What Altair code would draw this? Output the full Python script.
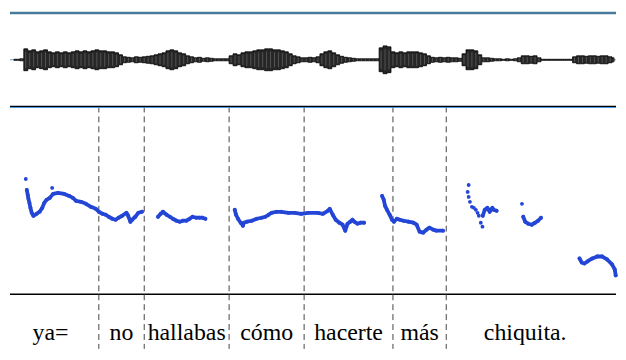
import altair as alt
import pandas as pd

T_START = -0.01
T_END = 3.06
W = 610

# ---- waveform envelope (half-amplitude, sampled every 0.02 s from 0.01 s) ----
wave_amp = [0.5, 0.5, 1, 11, 9, 10, 8, 9, 10, 8,
            7, 8, 7, 8, 7, 8, 9, 8, 9, 8,
            9, 10, 9, 9, 8, 8, 7, 5, 3, 2.5,
            2, 3, 2.5, 3, 3.5, 4, 5, 6, 7, 9,
            10, 9, 7, 6, 4, 3, 2, 2.5, 1.5, 2,
            1.5, 1, 1, 1, 1, 4, 6, 5, 7, 8,
            8, 9, 10, 10, 11, 11, 10, 10, 9, 8,
            6, 4, 3, 2, 2, 2.5, 2, 3, 6, 8,
            9, 7, 5, 3.5, 2.5, 2, 1.5, 1, 1, 1,
            1, 1, 1, 12, 14, 13, 8, 7, 8, 7,
            8, 8, 8, 7, 6, 4, 2.5, 2, 2.5, 2,
            2.5, 2, 2, 1.5, 6, 10, 10, 9, 5, 2,
            2, 1.5, 1, 1, 0.5, 1, 0.5, 1, 2, 4,
            4, 3.5, 4, 2, 0.5, 0.5, 0.5, 0.5, 0.5, 0.5,
            0.5, 0.5, 3, 4, 4, 3.5, 4, 4, 3.5, 4,
            4, 3, 2]
wave_t = [round(0.01 + 0.02 * i, 3) for i in range(len(wave_amp))]

# ---- pitch track (Hz) ----
p_iso_t = [0.07, 0.2035, 2.5835]
p_iso_hz = [345.5, 326.5, 292.6]

s1_t = [0.075, 0.08, 0.0835, 0.0885, 0.0935, 0.10, 0.1085, 0.125, 0.14, 0.1535,
        0.1635, 0.175, 0.1915, 0.2085, 0.2335, 0.265, 0.29, 0.3085, 0.325, 0.35,
        0.375, 0.40, 0.425, 0.44, 0.4585, 0.475, 0.49, 0.5085, 0.525, 0.54,
        0.5585, 0.58, 0.5885, 0.60, 0.6085, 0.625, 0.64, 0.6585]
s1_hz = [322.2, 311.6, 303.2, 294.7, 284.1, 273.5, 267.2, 271.4, 275.7, 284.1,
         294.7, 301.1, 305.3, 313.8, 315.9, 313.8, 309.5, 305.3, 298.9, 296.8,
         292.6, 286.2, 282.0, 275.7, 271.4, 269.3, 265.1, 260.8, 258.7, 263.0,
         267.2, 273.5, 267.2, 254.5, 258.7, 265.1, 273.5, 275.7]
s2_t = [0.74, 0.7535, 0.765, 0.7835, 0.80, 0.815, 0.8335, 0.85, 0.865, 0.8835,
        0.90, 0.915, 0.9335, 0.95, 0.965, 0.98]
s2_hz = [265.1, 271.4, 275.7, 269.3, 265.1, 260.8, 256.6, 254.5, 256.6, 256.6,
         260.8, 265.1, 263.0, 263.0, 263.0, 260.8]
s3_t = [1.1285, 1.135, 1.145, 1.1585, 1.17, 1.175, 1.19, 1.215, 1.24, 1.265,
        1.2835, 1.30, 1.315, 1.34, 1.365, 1.40, 1.4335, 1.465, 1.50, 1.55,
        1.575, 1.60, 1.61, 1.625, 1.64, 1.6585, 1.675, 1.6885, 1.70, 1.7135,
        1.725, 1.735, 1.75, 1.765, 1.7835]
s3_hz = [279.9, 269.3, 260.8, 252.4, 246.0, 252.4, 254.5, 256.6, 260.8, 263.0,
         265.1, 269.3, 273.5, 275.7, 275.7, 273.5, 273.5, 271.4, 273.5, 273.5,
         271.4, 277.8, 282.0, 269.3, 258.7, 252.4, 248.1, 235.4, 250.3, 254.5,
         258.7, 254.5, 250.3, 252.4, 252.4]
s4_t = [1.875, 1.8835, 1.89, 1.90, 1.9135, 1.925, 1.935, 1.95, 1.965, 1.9835,
        2.0085, 2.0335, 2.05, 2.065, 2.0835, 2.10, 2.115, 2.1335, 2.15, 2.1835]
s4_hz = [309.5, 301.1, 288.4, 279.9, 269.3, 258.7, 254.5, 260.8, 258.7, 256.6,
         254.5, 252.4, 248.1, 233.3, 231.2, 237.6, 241.8, 237.6, 235.5, 235.5]
d5_t = [2.3135, 2.3085, 2.3135, 2.32, 2.33, 2.34, 2.35, 2.3585, 2.365, 2.375, 2.3835]
d5_hz = [332.8, 318.0, 307.4, 296.8, 286.2, 284.1, 279.9, 273.5, 267.2, 252.4, 243.9]
s6_t = [2.385, 2.395, 2.4085, 2.42, 2.4335, 2.44, 2.455]
s6_hz = [267.2, 279.9, 284.1, 275.7, 284.1, 279.9, 277.8]
s7_t = [2.59, 2.60, 2.615, 2.6335, 2.65, 2.665, 2.68]
s7_hz = [265.1, 254.5, 250.3, 248.1, 252.4, 256.6, 263.0]
s8_t = [2.875, 2.8865, 2.90, 2.915, 2.94, 2.965, 2.99, 3.015, 3.04, 3.0535, 3.0585]
s8_hz = [176.2, 167.7, 165.6, 169.8, 176.2, 180.4, 180.4, 174.1, 163.5, 152.9, 140.2]

# ---- word tier ----
words = ["ya=", "no", "hallabas", "cómo", "hacerte", "más", "chiquita."]
bounds = [0.44, 0.67, 1.10, 1.48, 1.93, 2.20]
tier_start, tier_end = -0.05, 3.0

BLUE = "#2446d6"
SERIF = "Liberation Serif"

# ---------- build tables ----------
wave_df = pd.DataFrame({"t": wave_t, "amp": wave_amp})
wave_df["neg"] = -wave_df["amp"]
wave_df["amp_in"] = wave_df["amp"] * 0.75
wave_df["neg_in"] = -wave_df["amp_in"]

segs = {"s1": (s1_t, s1_hz), "s2": (s2_t, s2_hz), "s3": (s3_t, s3_hz),
        "s4": (s4_t, s4_hz), "s6": (s6_t, s6_hz), "s7": (s7_t, s7_hz),
        "s8": (s8_t, s8_hz)}
rows = []
for name, (ts, hs) in segs.items():
    rows += [{"t": a, "hz": b, "seg": name, "line": True} for a, b in zip(ts, hs)]
rows += [{"t": a, "hz": b, "seg": "d5", "line": False} for a, b in zip(d5_t, d5_hz)]
rows += [{"t": a, "hz": b, "seg": f"p{i}", "line": False}
         for i, (a, b) in enumerate(zip(p_iso_t, p_iso_hz))]
pitch_df = pd.DataFrame(rows)
line_df = pitch_df[pitch_df["line"]]

edges = [tier_start] + bounds + [tier_end]
word_df = pd.DataFrame({"w": words,
                        "t": [(edges[i] + edges[i + 1]) / 2 for i in range(len(words))]})
bound_df = pd.DataFrame({"t": bounds})

xscale = alt.Scale(domain=[T_START, T_END], nice=False, zero=False)


def X():
    return alt.X("t:Q", scale=xscale, axis=None)


# ---------- panel A: waveform ----------
ysA = alt.Scale(domain=[-47, 49], nice=False, zero=False)
zero_line = alt.Chart(pd.DataFrame({"v": [0]})).mark_rule(
    color="#7d9bb3", strokeWidth=1).encode(y=alt.Y("v:Q", scale=ysA, axis=None))
top_line = alt.Chart(pd.DataFrame({"v": [47]})).mark_rule(
    color="#4a7b9d", strokeWidth=2.5).encode(y=alt.Y("v:Q", scale=ysA, axis=None))
area = alt.Chart(wave_df).mark_area(
    color="#262626", stroke="#000000", strokeWidth=0.8, interpolate="step"
).encode(x=X(), y=alt.Y("amp:Q", scale=ysA, axis=None), y2="neg:Q")
stripes = alt.Chart(wave_df).mark_rule(color="#606060", strokeWidth=0.8).encode(
    x=X(), y=alt.Y("amp_in:Q", scale=ysA, axis=None), y2="neg_in:Q")
panelA = alt.layer(zero_line, top_line, area, stripes).properties(width=W, height=96)

# ---------- panel B: pitch ----------
ysB = alt.Scale(domain=[100, 500], nice=False, zero=False)
frame = alt.Chart(pd.DataFrame({"v": [500, 100]})).mark_rule(
    color="#000000", strokeWidth=1.3).encode(y=alt.Y("v:Q", scale=ysB, axis=None))
frame_blue = alt.Chart(pd.DataFrame({"v": [498]})).mark_rule(
    color="#3b8fdc", strokeWidth=1).encode(y=alt.Y("v:Q", scale=ysB, axis=None))
dashesB = alt.Chart(bound_df).mark_rule(
    color="#444444", strokeWidth=1, strokeDash=[6, 4]).encode(x=X())
pline = alt.Chart(line_df).mark_line(
    color=BLUE, strokeWidth=3.8, strokeCap="round", strokeJoin="round"
).encode(x=X(), y=alt.Y("hz:Q", scale=ysB, axis=None), detail="seg:N",
         order="t:Q")
ppts = alt.Chart(pitch_df).mark_circle(color=BLUE, size=15, opacity=1).encode(
    x=X(), y=alt.Y("hz:Q", scale=ysB, axis=None))
panelB = alt.layer(dashesB, frame_blue, frame, pline, ppts).properties(width=W, height=189)

# ---------- panel C: words ----------
dashesC = alt.Chart(bound_df).mark_rule(
    color="#444444", strokeWidth=1, strokeDash=[6, 4]).encode(x=X())
txt = alt.Chart(word_df).mark_text(
    font=SERIF, fontSize=24, color="#000000", baseline="alphabetic",
    align="center").encode(x=X(), y=alt.value(46), text="w:N")
panelC = alt.layer(dashesC, txt).properties(width=W, height=55)

chart = alt.vconcat(panelA, panelB, panelC, spacing=0, bounds="flush").properties(
    padding={"left": 0, "top": 2, "right": 0, "bottom": 0}
).configure_view(stroke=None)

chart.save("out.html", embed_options={"renderer": "svg", "actions": False})
